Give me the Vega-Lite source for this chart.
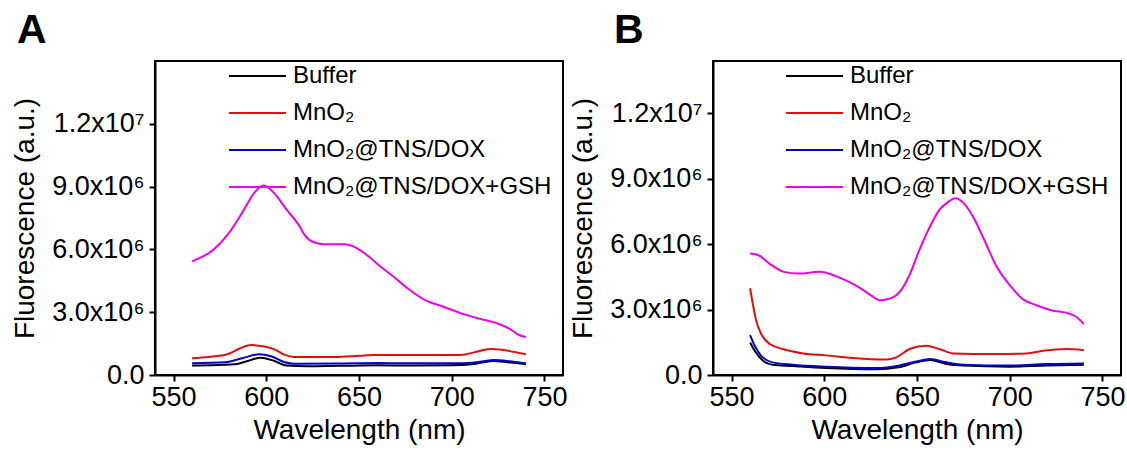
{
  "$schema": "https://vega.github.io/schema/vega-lite/v6.json",
  "padding": {"left": 10, "top": 9, "right": 5, "bottom": 5},
  "background": "white",
  "spacing": 0,
  "datasets": {
    "a": [
      {"s": "Buffer", "x": 560, "y": 450000}, {"s": "Buffer", "x": 570, "y": 460000}, {"s": "Buffer", "x": 583, "y": 510000}, {"s": "Buffer", "x": 590, "y": 670000}, {"s": "Buffer", "x": 597, "y": 830000}, {"s": "Buffer", "x": 604, "y": 680000}, {"s": "Buffer", "x": 611, "y": 450000}, {"s": "Buffer", "x": 622, "y": 420000}, {"s": "Buffer", "x": 640, "y": 440000}, {"s": "Buffer", "x": 660, "y": 460000}, {"s": "Buffer", "x": 680, "y": 450000}, {"s": "Buffer", "x": 700, "y": 460000}, {"s": "Buffer", "x": 712, "y": 520000}, {"s": "Buffer", "x": 722, "y": 670000}, {"s": "Buffer", "x": 730, "y": 610000}, {"s": "Buffer", "x": 740, "y": 510000},
      {"s": "MnO₂", "x": 560, "y": 800000}, {"s": "MnO₂", "x": 569, "y": 860000}, {"s": "MnO₂", "x": 579, "y": 990000}, {"s": "MnO₂", "x": 586, "y": 1280000}, {"s": "MnO₂", "x": 592, "y": 1430000}, {"s": "MnO₂", "x": 599, "y": 1360000}, {"s": "MnO₂", "x": 605, "y": 1200000}, {"s": "MnO₂", "x": 610, "y": 960000}, {"s": "MnO₂", "x": 615, "y": 860000}, {"s": "MnO₂", "x": 637, "y": 860000}, {"s": "MnO₂", "x": 650, "y": 920000}, {"s": "MnO₂", "x": 658, "y": 960000}, {"s": "MnO₂", "x": 676, "y": 960000}, {"s": "MnO₂", "x": 705, "y": 960000}, {"s": "MnO₂", "x": 712, "y": 1080000}, {"s": "MnO₂", "x": 721, "y": 1240000}, {"s": "MnO₂", "x": 728, "y": 1190000}, {"s": "MnO₂", "x": 740, "y": 990000},
      {"s": "MnO₂@TNS/DOX", "x": 560, "y": 560000}, {"s": "MnO₂@TNS/DOX", "x": 578, "y": 610000}, {"s": "MnO₂@TNS/DOX", "x": 587, "y": 800000}, {"s": "MnO₂@TNS/DOX", "x": 596, "y": 990000}, {"s": "MnO₂@TNS/DOX", "x": 603, "y": 880000}, {"s": "MnO₂@TNS/DOX", "x": 610, "y": 610000}, {"s": "MnO₂@TNS/DOX", "x": 615, "y": 540000}, {"s": "MnO₂@TNS/DOX", "x": 640, "y": 550000}, {"s": "MnO₂@TNS/DOX", "x": 660, "y": 570000}, {"s": "MnO₂@TNS/DOX", "x": 680, "y": 560000}, {"s": "MnO₂@TNS/DOX", "x": 705, "y": 560000}, {"s": "MnO₂@TNS/DOX", "x": 715, "y": 630000}, {"s": "MnO₂@TNS/DOX", "x": 723, "y": 720000}, {"s": "MnO₂@TNS/DOX", "x": 732, "y": 650000}, {"s": "MnO₂@TNS/DOX", "x": 740, "y": 560000},
      {"s": "MnO₂@TNS/DOX+GSH", "x": 560, "y": 5430000}, {"s": "MnO₂@TNS/DOX+GSH", "x": 572, "y": 6020000}, {"s": "MnO₂@TNS/DOX+GSH", "x": 580, "y": 6800000}, {"s": "MnO₂@TNS/DOX+GSH", "x": 588, "y": 7900000}, {"s": "MnO₂@TNS/DOX+GSH", "x": 593.5, "y": 8700000}, {"s": "MnO₂@TNS/DOX+GSH", "x": 598.5, "y": 9050000}, {"s": "MnO₂@TNS/DOX+GSH", "x": 603, "y": 8800000}, {"s": "MnO₂@TNS/DOX+GSH", "x": 611, "y": 7900000}, {"s": "MnO₂@TNS/DOX+GSH", "x": 618, "y": 7100000}, {"s": "MnO₂@TNS/DOX+GSH", "x": 621, "y": 6650000}, {"s": "MnO₂@TNS/DOX+GSH", "x": 626, "y": 6330000}, {"s": "MnO₂@TNS/DOX+GSH", "x": 631, "y": 6250000}, {"s": "MnO₂@TNS/DOX+GSH", "x": 642, "y": 6250000}, {"s": "MnO₂@TNS/DOX+GSH", "x": 648, "y": 6100000}, {"s": "MnO₂@TNS/DOX+GSH", "x": 653.5, "y": 5780000}, {"s": "MnO₂@TNS/DOX+GSH", "x": 661, "y": 5220000}, {"s": "MnO₂@TNS/DOX+GSH", "x": 669, "y": 4670000}, {"s": "MnO₂@TNS/DOX+GSH", "x": 676.5, "y": 4120000}, {"s": "MnO₂@TNS/DOX+GSH", "x": 686, "y": 3560000}, {"s": "MnO₂@TNS/DOX+GSH", "x": 696, "y": 3250000}, {"s": "MnO₂@TNS/DOX+GSH", "x": 705.5, "y": 2930000}, {"s": "MnO₂@TNS/DOX+GSH", "x": 715, "y": 2690000}, {"s": "MnO₂@TNS/DOX+GSH", "x": 725, "y": 2450000}, {"s": "MnO₂@TNS/DOX+GSH", "x": 731, "y": 2220000}, {"s": "MnO₂@TNS/DOX+GSH", "x": 736.5, "y": 1900000}, {"s": "MnO₂@TNS/DOX+GSH", "x": 740, "y": 1820000}
    ],
    "b": [
      {"s": "Buffer", "x": 560, "y": 1490000}, {"s": "Buffer", "x": 562.5, "y": 1110000}, {"s": "Buffer", "x": 566, "y": 730000}, {"s": "Buffer", "x": 572, "y": 470000}, {"s": "Buffer", "x": 583, "y": 410000}, {"s": "Buffer", "x": 601, "y": 320000}, {"s": "Buffer", "x": 628, "y": 260000}, {"s": "Buffer", "x": 640, "y": 350000}, {"s": "Buffer", "x": 649.5, "y": 580000}, {"s": "Buffer", "x": 657, "y": 690000}, {"s": "Buffer", "x": 666, "y": 500000}, {"s": "Buffer", "x": 675, "y": 430000}, {"s": "Buffer", "x": 700, "y": 380000}, {"s": "Buffer", "x": 720, "y": 430000}, {"s": "Buffer", "x": 740, "y": 470000},
      {"s": "MnO₂", "x": 560, "y": 3980000}, {"s": "MnO₂", "x": 561.5, "y": 3250000}, {"s": "MnO₂", "x": 563.3, "y": 2490000}, {"s": "MnO₂", "x": 566, "y": 1880000}, {"s": "MnO₂", "x": 570.6, "y": 1420000}, {"s": "MnO₂", "x": 577.7, "y": 1190000}, {"s": "MnO₂", "x": 588.5, "y": 990000}, {"s": "MnO₂", "x": 601, "y": 900000}, {"s": "MnO₂", "x": 615.5, "y": 780000}, {"s": "MnO₂", "x": 633.4, "y": 710000}, {"s": "MnO₂", "x": 638.8, "y": 810000}, {"s": "MnO₂", "x": 646, "y": 1190000}, {"s": "MnO₂", "x": 655, "y": 1340000}, {"s": "MnO₂", "x": 662, "y": 1190000}, {"s": "MnO₂", "x": 669.4, "y": 990000}, {"s": "MnO₂", "x": 691, "y": 960000}, {"s": "MnO₂", "x": 709, "y": 990000}, {"s": "MnO₂", "x": 718, "y": 1110000}, {"s": "MnO₂", "x": 730.5, "y": 1190000}, {"s": "MnO₂", "x": 740, "y": 1140000},
      {"s": "MnO₂@TNS/DOX", "x": 560, "y": 1830000}, {"s": "MnO₂@TNS/DOX", "x": 562.5, "y": 1340000}, {"s": "MnO₂@TNS/DOX", "x": 566, "y": 880000}, {"s": "MnO₂@TNS/DOX", "x": 572, "y": 580000}, {"s": "MnO₂@TNS/DOX", "x": 583, "y": 470000}, {"s": "MnO₂@TNS/DOX", "x": 601, "y": 380000}, {"s": "MnO₂@TNS/DOX", "x": 628, "y": 320000}, {"s": "MnO₂@TNS/DOX", "x": 640.6, "y": 440000}, {"s": "MnO₂@TNS/DOX", "x": 649.6, "y": 620000}, {"s": "MnO₂@TNS/DOX", "x": 656.8, "y": 730000}, {"s": "MnO₂@TNS/DOX", "x": 665.8, "y": 580000}, {"s": "MnO₂@TNS/DOX", "x": 675, "y": 470000}, {"s": "MnO₂@TNS/DOX", "x": 700, "y": 430000}, {"s": "MnO₂@TNS/DOX", "x": 720, "y": 500000}, {"s": "MnO₂@TNS/DOX", "x": 740, "y": 530000},
      {"s": "MnO₂@TNS/DOX+GSH", "x": 560, "y": 5570000}, {"s": "MnO₂@TNS/DOX+GSH", "x": 564.6, "y": 5490000}, {"s": "MnO₂@TNS/DOX+GSH", "x": 570.4, "y": 5110000}, {"s": "MnO₂@TNS/DOX+GSH", "x": 578.2, "y": 4730000}, {"s": "MnO₂@TNS/DOX+GSH", "x": 586, "y": 4650000}, {"s": "MnO₂@TNS/DOX+GSH", "x": 597.7, "y": 4730000}, {"s": "MnO₂@TNS/DOX+GSH", "x": 603.5, "y": 4620000}, {"s": "MnO₂@TNS/DOX+GSH", "x": 611.3, "y": 4350000}, {"s": "MnO₂@TNS/DOX+GSH", "x": 619, "y": 4010000}, {"s": "MnO₂@TNS/DOX+GSH", "x": 625, "y": 3660000}, {"s": "MnO₂@TNS/DOX+GSH", "x": 629.8, "y": 3430000}, {"s": "MnO₂@TNS/DOX+GSH", "x": 635.6, "y": 3510000}, {"s": "MnO₂@TNS/DOX+GSH", "x": 641.4, "y": 3890000}, {"s": "MnO₂@TNS/DOX+GSH", "x": 646.3, "y": 4650000}, {"s": "MnO₂@TNS/DOX+GSH", "x": 651.2, "y": 5720000}, {"s": "MnO₂@TNS/DOX+GSH", "x": 656, "y": 6630000}, {"s": "MnO₂@TNS/DOX+GSH", "x": 661.9, "y": 7550000}, {"s": "MnO₂@TNS/DOX+GSH", "x": 666.7, "y": 7930000}, {"s": "MnO₂@TNS/DOX+GSH", "x": 670.6, "y": 8110000}, {"s": "MnO₂@TNS/DOX+GSH", "x": 675.5, "y": 7850000}, {"s": "MnO₂@TNS/DOX+GSH", "x": 681.3, "y": 7090000}, {"s": "MnO₂@TNS/DOX+GSH", "x": 687.2, "y": 6020000}, {"s": "MnO₂@TNS/DOX+GSH", "x": 693, "y": 4960000}, {"s": "MnO₂@TNS/DOX+GSH", "x": 700.8, "y": 4040000}, {"s": "MnO₂@TNS/DOX+GSH", "x": 706.6, "y": 3510000}, {"s": "MnO₂@TNS/DOX+GSH", "x": 714.4, "y": 3200000}, {"s": "MnO₂@TNS/DOX+GSH", "x": 722.2, "y": 2970000}, {"s": "MnO₂@TNS/DOX+GSH", "x": 731.9, "y": 2820000}, {"s": "MnO₂@TNS/DOX+GSH", "x": 735.8, "y": 2670000}, {"s": "MnO₂@TNS/DOX+GSH", "x": 740, "y": 2330000}
    ]
  },
  "config": {
    "font": "Liberation Sans",
    "view": {"stroke": "black", "strokeWidth": 2},
    "axis": {
      "grid": false, "domainColor": "black", "domainWidth": 2, "tickColor": "black", "tickWidth": 2, "tickSize": 6,
      "labelFont": "Liberation Sans", "labelFontSize": 27, "labelColor": "black",
      "titleFont": "Liberation Sans", "titleFontSize": 28, "titleFontWeight": "normal", "titleColor": "black"
    },
    "legend": {
      "orient": "none", "title": null, "symbolType": "stroke", "symbolSize": 3249, "symbolStrokeWidth": 2,
      "clipHeight": 30, "rowPadding": 7, "labelFont": "Liberation Sans", "labelFontSize": 24, "labelColor": "black",
      "labelOffset": 6, "padding": 0, "labelLimit": 400
    },
    "line": {"strokeWidth": 2}
  },
  "resolve": {"scale": {"color": "independent", "y": "independent"}, "legend": {"color": "independent"}},
  "hconcat": [
    {
      "width": 408, "height": 314,
      "title": {"text": "A", "anchor": "start", "frame": "group", "fontSize": 41, "fontWeight": "bold", "font": "Liberation Sans", "color": "black", "dx": -138, "offset": -23, "baseline": "alphabetic"},
      "data": {"name": "a"},
      "mark": {"type": "line", "strokeWidth": 2, "interpolate": "monotone"},
      "encoding": {
        "x": {"field": "x", "type": "quantitative", "scale": {"domain": [540, 760], "nice": false}, "axis": {"values": [550, 600, 650, 700, 750], "format": "d", "title": "Wavelength (nm)", "labelPadding": 3, "titlePadding": 6}},
        "y": {"field": "y", "type": "quantitative", "scale": {"domain": [0, 15000000], "nice": false}, "axis": {"values": [0, 3000000, 6000000, 9000000, 12000000], "labelExpr": "datum.value == 0 ? '0.0' : datum.value == 3000000 ? '3.0x10⁶' : datum.value == 6000000 ? '6.0x10⁶' : datum.value == 9000000 ? '9.0x10⁶' : '1.2x10⁷'", "title": "Fluorescence (a.u.)", "labelPadding": 5, "titlePadding": 12}},
        "color": {"field": "s", "type": "nominal", "scale": {"domain": ["Buffer", "MnO₂", "MnO₂@TNS/DOX", "MnO₂@TNS/DOX+GSH"], "range": ["#000000", "#e01010", "#0000d0", "#ee00ee"]}, "legend": {"legendX": 73, "legendY": 0}}
      }
    },
    {
      "width": 408, "height": 314,
      "title": {"text": "B", "anchor": "start", "frame": "group", "fontSize": 41, "fontWeight": "bold", "font": "Liberation Sans", "color": "black", "dx": -99, "offset": -23, "baseline": "alphabetic"},
      "data": {"name": "b"},
      "mark": {"type": "line", "strokeWidth": 2, "interpolate": "monotone"},
      "encoding": {
        "x": {"field": "x", "type": "quantitative", "scale": {"domain": [540, 760], "nice": false}, "axis": {"values": [550, 600, 650, 700, 750], "format": "d", "title": "Wavelength (nm)", "labelPadding": 3, "titlePadding": 6}},
        "y": {"field": "y", "type": "quantitative", "scale": {"domain": [0, 14400000], "nice": false}, "axis": {"values": [0, 3000000, 6000000, 9000000, 12000000], "labelExpr": "datum.value == 0 ? '0.0' : datum.value == 3000000 ? '3.0x10⁶' : datum.value == 6000000 ? '6.0x10⁶' : datum.value == 9000000 ? '9.0x10⁶' : '1.2x10⁷'", "title": "Fluorescence (a.u.)", "labelPadding": 5, "titlePadding": 12}},
        "color": {"field": "s", "type": "nominal", "scale": {"domain": ["Buffer", "MnO₂", "MnO₂@TNS/DOX", "MnO₂@TNS/DOX+GSH"], "range": ["#000000", "#e01010", "#0000d0", "#ee00ee"]}, "legend": {"legendX": 72, "legendY": 0}}
      }
    }
  ]
}
